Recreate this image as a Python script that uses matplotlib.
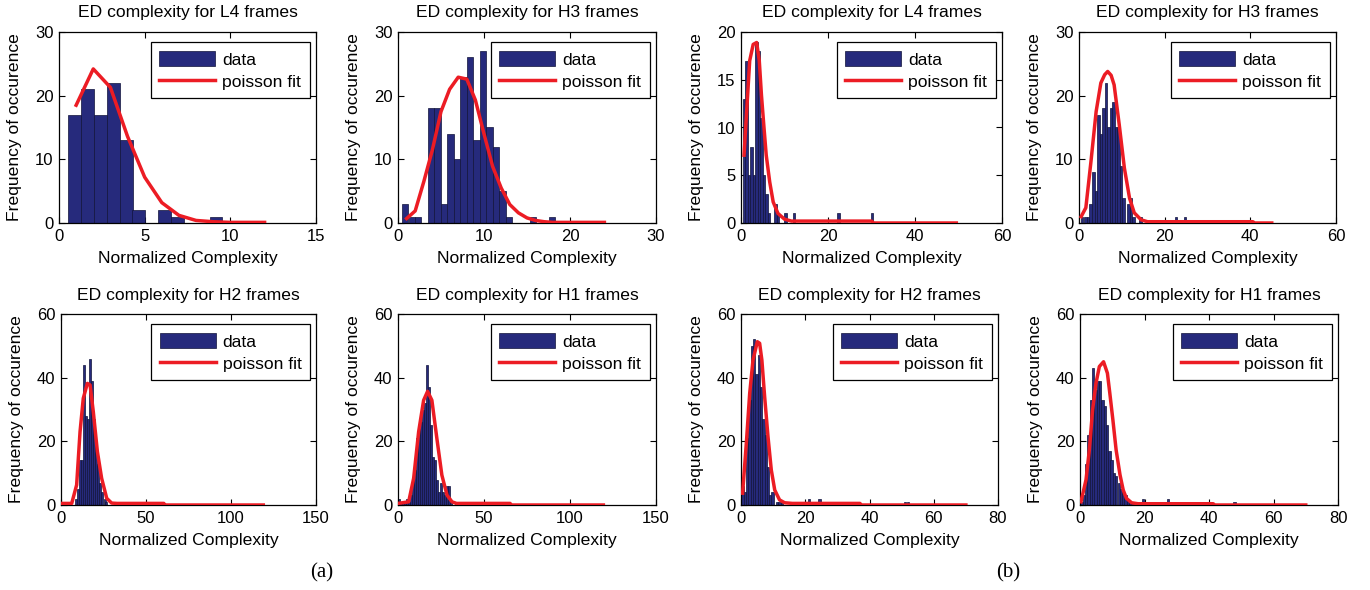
import matplotlib
matplotlib.use("Agg")
import matplotlib.pyplot as plt

plt.rcParams['font.family'] = ['Liberation Sans', 'DejaVu Sans']

# ---------------- data ----------------
titles = ["ED complexity for L4 frames", "ED complexity for H3 frames",
          "ED complexity for L4 frames", "ED complexity for H3 frames",
          "ED complexity for H2 frames", "ED complexity for H1 frames",
          "ED complexity for H2 frames", "ED complexity for H1 frames"]
xlabel = "Normalized Complexity"
ylabel = "Frequency of occurence"
legend_labels = ["data", "poisson fit"]
panel_tags = ["(a)", "(b)"]

# panel 1 (a) L4
c1 = [0.92, 1.67, 2.42, 3.17, 3.92, 4.66, 6.16, 6.91, 9.16]
n1 = [17, 21, 17, 22, 13, 2, 2, 1, 1]
w1 = 0.75
f1x = [1, 2, 3, 4, 5, 6, 7, 8, 9, 10, 11, 12]
f1y = [18.5, 24.2, 21.3, 13.6, 7.2, 3.2, 1.2, 0.4, 0.2, 0.1, 0.1, 0.1]

# panel 2 (a) H3
c2 = [0.84, 1.60, 2.35, 3.86, 4.62, 5.37, 6.13, 6.88, 7.64, 8.39, 9.15, 9.90,
      10.66, 11.41, 12.17, 12.92, 15.7, 17.9]
n2 = [3, 1, 1, 18, 18, 3, 14, 10, 23, 26, 13, 27, 15, 12, 5, 1, 1, 1]
w2 = 0.755
f2x = [1, 2, 3, 4, 5, 6, 7, 8, 9, 10, 11, 12, 13, 14, 15, 16, 17, 18, 19, 20,
       21, 22, 23, 24]
f2y = [0.7, 1.9, 6.5, 11.5, 17.5, 21.0, 22.9, 22.6, 19.3, 14.0, 8.9, 5.5, 2.9,
       1.6, 0.8, 0.4, 0.2, 0.1, 0.1, 0.1, 0.1, 0.1, 0.1, 0.1]

# panel 3 (b) L4
c3 = [0.69, 1.27, 1.80, 2.38, 2.99, 3.57, 4.10, 4.68, 5.30, 5.87, 6.40, 7.94,
      8.48, 10.2, 12.2, 22.4, 30.1]
n3 = [13, 17, 5, 8, 5, 19, 18, 11, 5, 3, 1, 2, 1, 1, 1, 1, 1]
w3 = 0.58
f3x = [0.7, 1.3, 2.0, 2.8, 3.6, 4.2, 4.7, 5.3, 5.8, 6.6, 7.4, 8.5, 10.0, 11.6,
       13.0, 30.0, 30.5, 49.5]
f3y = [7.1, 11.7, 17.0, 18.7, 18.9, 17.0, 13.4, 9.9, 7.1, 4.3, 2.2, 1.0, 0.4,
       0.2, 0.2, 0.2, 0.0, 0.0]

# panel 4 (b) H3
c4 = [0.66, 1.51, 2.09, 2.67, 3.40, 3.98, 4.56, 5.14, 5.72, 6.30, 6.88, 7.46,
      8.04, 8.62, 9.20, 9.78, 10.36, 11.52, 12.10, 12.68, 14.4, 22.7, 24.8]
n4 = [1, 1, 1, 3, 8, 5, 17, 14, 18, 22, 15, 18, 19, 15, 15, 9, 4, 3, 4, 1, 1,
      1, 1]
w4 = 0.58
f4x = [0.5, 1.6, 2.8, 4.0, 5.1, 6.0, 6.7, 7.5, 8.2, 9.4, 10.6, 11.8, 12.9,
       14.5, 16.0, 18.0, 40.6, 41.0, 45.0]
f4y = [1.0, 2.4, 9.7, 17.5, 22.0, 23.3, 23.8, 23.2, 21.7, 15.4, 8.6, 3.9, 1.6,
       0.5, 0.2, 0.2, 0.2, 0.0, 0.0]

# panel 5 (a) H2
c5 = [1.0, 9.0, 10.2, 11.4, 12.5, 13.7, 14.9, 16.1, 17.3, 18.5, 19.6, 20.8,
      22.0, 23.2, 24.4, 25.6, 26.7]
n5 = [1, 2, 5, 14, 14, 44, 28, 27, 46, 39, 27, 19, 13, 7, 4, 2, 1]
w5 = 1.18
f5x = [1.0, 6.3, 9.2, 11.2, 13.1, 15.5, 17.1, 19.0, 21.4, 23.9, 26.9, 29.8,
       33.0, 60.5, 61.0, 119.0]
f5y = [0.5, 0.5, 6.3, 23.0, 33.5, 38.2, 37.7, 29.3, 16.8, 8.4, 2.1, 0.6, 0.5,
       0.5, 0.0, 0.0]

# panel 6 (a) H1
c6 = [0.6, 1.8, 3.0, 4.1, 5.3, 6.4, 7.6, 8.8, 10.0, 11.2, 12.3, 13.5, 14.7,
      15.8, 17.0, 18.2, 19.3, 20.5, 21.7, 22.8, 24.0, 25.2, 26.3, 27.5, 28.6,
      29.8, 31.0, 34.0, 37.0, 40.0, 46.0, 52.0, 58.0]
n6 = [2, 1, 1, 1, 2, 1, 3, 8, 11, 21, 24, 26, 30, 32, 44, 37, 25, 15, 14, 8, 4,
      7, 4, 3, 6, 6, 1, 1, 1, 1, 1, 1, 1]
w6 = 1.16
f6x = [0.0, 6.2, 9.1, 12.0, 14.9, 17.2, 19.7, 22.6, 25.5, 28.5, 31.4, 34.0,
       65.2, 65.5, 119.4]
f6y = [0.5, 1.0, 8.4, 23.0, 32.9, 35.7, 32.9, 20.9, 9.4, 3.1, 1.0, 0.5, 0.5,
       0.0, 0.0]

# panel 7 (b) H2
c7 = [0.47, 1.19, 1.90, 2.62, 3.35, 4.07, 4.80, 5.52, 6.24, 6.96, 7.68, 8.40,
      9.12, 9.84, 11.3, 12.0, 12.7, 20.2, 21.2, 23.6, 24.4, 25.4, 26.4, 34.6,
      51.0, 52.0]
n7 = [6, 4, 21, 33, 50, 52, 41, 47, 37, 27, 22, 12, 3, 4, 1, 1, 1, 1, 2, 1, 2,
      1, 1, 1, 1, 1]
w7 = 0.72
f7x = [0.5, 1.66, 2.7, 3.73, 5.08, 5.8, 6.5, 7.36, 8.4, 9.43, 10.5, 12.0, 13.6,
       16.0, 37.0, 37.5, 70.0]
f7y = [3.7, 19.4, 35.0, 45.5, 51.3, 50.8, 45.5, 34.0, 21.5, 11.0, 4.7, 1.6,
       0.7, 0.5, 0.5, 0.0, 0.0]

# panel 8 (b) H1
c8 = [0.5, 1.2, 1.9, 2.6, 3.35, 4.05, 4.8, 5.5, 6.2, 6.95, 7.65, 8.4, 9.1, 9.8,
      10.5, 11.2, 12.0, 12.7, 13.4, 14.1, 14.9, 15.6, 16.3, 17.0, 19.5, 21.5,
      24.6, 25.6, 27.2, 28.7, 36.8, 47.9]
n8 = [1, 3, 13, 22, 33, 43, 36, 39, 39, 33, 31, 25, 17, 14, 10, 9, 7, 5, 4, 3,
      2, 1, 1, 1, 2, 1, 1, 1, 2, 1, 1, 1]
w8 = 0.72
f8x = [0.3, 1.86, 2.9, 3.9, 4.95, 6.0, 7.3, 8.5, 9.2, 10.2, 11.2, 12.4, 13.4,
       14.4, 16.0, 18.0, 41.3, 41.8, 70.0]
f8y = [1.0, 7.9, 17.3, 29.8, 38.2, 43.5, 45.0, 41.4, 35.5, 26.7, 17.3, 9.5,
       4.7, 2.1, 0.7, 0.4, 0.4, 0.0, 0.0]

xticks = [[0, 5, 10, 15], [0, 10, 20, 30], [0, 20, 40, 60], [0, 20, 40, 60],
          [0, 50, 100, 150], [0, 50, 100, 150], [0, 20, 40, 60, 80],
          [0, 20, 40, 60, 80]]
yticks = [[0, 10, 20, 30], [0, 10, 20, 30], [0, 5, 10, 15, 20], [0, 10, 20, 30],
          [0, 20, 40, 60], [0, 20, 40, 60], [0, 20, 40, 60], [0, 20, 40, 60]]

bars = [(c1, n1, w1), (c2, n2, w2), (c3, n3, w3), (c4, n4, w4),
        (c5, n5, w5), (c6, n6, w6), (c7, n7, w7), (c8, n8, w8)]
fits = [(f1x, f1y), (f2x, f2y), (f3x, f3y), (f4x, f4y),
        (f5x, f5y), (f6x, f6y), (f7x, f7y), (f8x, f8y)]

# ---------------- layout (pixels) ----------------
W, H = 1370, 590
boxes = [(59, 316, 32, 223), (398, 656, 32, 223), (741, 1002, 32, 223),
         (1079, 1336, 32, 223),
         (61, 316, 314, 505), (398, 656, 314, 505), (741, 998, 314, 505),
         (1080, 1338, 314, 505)]

BAR_COLOR = '#262a7c'
FIT_COLOR = '#ec1c24'

fig = plt.figure(figsize=(W / 100, H / 100), dpi=100)

for i in range(8):
    l, r, t, b = boxes[i]
    ax = fig.add_axes([l / W, 1 - b / H, (r - l) / W, (b - t) / H])
    cx, cy, w = bars[i]
    bc = ax.bar(cx, cy, width=w, color=BAR_COLOR, edgecolor='#10123a',
                linewidth=0.5, zorder=2)
    fx, fy = fits[i]
    ln, = ax.plot(fx, fy, color=FIT_COLOR, linewidth=2.5, zorder=3,
                  solid_joinstyle='round')
    ax.set_xlim(xticks[i][0], xticks[i][-1])
    ax.set_ylim(yticks[i][0], yticks[i][-1])
    ax.set_xticks(xticks[i])
    ax.set_yticks(yticks[i])
    ax.tick_params(direction='in', top=True, right=True, length=4,
                   width=0.8, labelsize=12, pad=4)
    for s in ax.spines.values():
        s.set_linewidth(0.9)
        s.set_color('black')
    top_row = i < 4
    ax.set_title(titles[i], fontsize=12.6, pad=11 if top_row else 10)
    ax.set_xlabel(xlabel, fontsize=12.6)
    ax.set_ylabel(ylabel, fontsize=12.6)
    ax.xaxis.set_label_coords(0.5, -0.145)
    ax.yaxis.set_label_coords(-37 / (r - l), 0.5)
    leg = ax.legend([bc, ln], legend_labels, loc='upper right',
                    bbox_to_anchor=(0.977, 0.948),
                    borderaxespad=0, fontsize=12.6, frameon=True,
                    fancybox=False, framealpha=1, edgecolor='black',
                    handlelength=3.2, handleheight=1.0, handletextpad=0.4,
                    borderpad=0.5, labelspacing=0.3)
    leg.get_frame().set_linewidth(0.9)

fig.text(322 / W, 1 - 573 / H, panel_tags[0], ha='center', va='center',
         fontsize=15, family=['Liberation Serif', 'DejaVu Serif'])
fig.text(1008 / W, 1 - 573 / H, panel_tags[1], ha='center', va='center',
         fontsize=15, family=['Liberation Serif', 'DejaVu Serif'])

fig.savefig("out.png", dpi=100)
